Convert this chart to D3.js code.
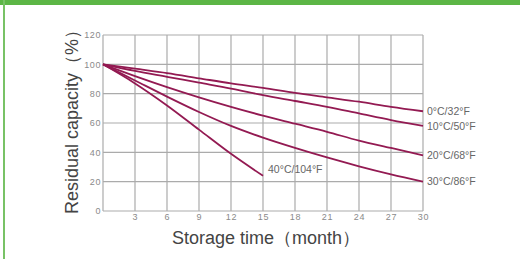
<!DOCTYPE html>
<html>
<head>
<meta charset="utf-8">
<script src="https://cdn.jsdelivr.net/npm/d3@7"></script>
<style>
  body { margin: 0; background: #fff; }
  svg { display: block; font-family: "Liberation Sans", Arial, sans-serif; }
</style>
</head>
<body>
<svg id="chart"></svg>
<script>
// ---------------- data ----------------
var months = [0, 3, 6, 9, 12, 15, 18, 21, 24, 27, 30];
var monthsHot = [0, 3, 6, 9, 12, 15];
var xTicks = [3, 6, 9, 12, 15, 18, 21, 24, 27, 30];
var yTicks = [0, 20, 40, 60, 80, 100, 120];

var labels = ["0°C/32°F", "10°C/50°F", "20°C/68°F", "30°C/86°F", "40°C/104°F"];
var cap0  = [100, 97, 94, 90.5, 87, 84, 80.5, 77.5, 74.5, 71, 68];
var cap10 = [100, 95.5, 91.5, 87.5, 83.5, 79, 75, 71, 66.5, 62, 58];
var cap20 = [100, 92, 84.5, 77.5, 71, 65, 59.5, 54, 48, 43, 38];
var cap30 = [100, 89, 78, 67.5, 58, 50, 43, 36.5, 30.5, 25, 20];
var cap40 = [100, 87, 72, 55.5, 39, 24];

var W = 520, H = 259;
var margin = {top: 35, right: 97, bottom: 48, left: 103};

var svg = d3.select("#chart").attr("width", W).attr("height", H);

// frame decoration: green band on top, green line on the left
svg.append("rect").attr("x", 0).attr("y", 0).attr("width", W).attr("height", 5).style("fill", "#5cb646");
svg.append("rect").attr("x", 3).attr("y", 0).attr("width", 2).attr("height", H).style("fill", "#78c266");

var x = d3.scaleLinear().domain([0, 30]).range([margin.left, W - margin.right]);
var y = d3.scaleLinear().domain([0, 120]).range([H - margin.bottom, margin.top]);

//------------- grid -------------
var grid = svg.append("g").style("stroke", "#ababab").style("stroke-width", 1.2);
grid.selectAll("line.v").data([0].concat(xTicks)).enter().append("line")
  .attr("x1", function(d){ return x(d); }).attr("x2", function(d){ return x(d); })
  .attr("y1", y(0)).attr("y2", y(120));
grid.selectAll("line.h").data(yTicks).enter().append("line")
  .attr("x1", x(0)).attr("x2", x(30))
  .attr("y1", function(d){ return y(d); }).attr("y2", function(d){ return y(d); });

//------------- axes labels -------------
svg.append("g")
  .attr("transform", "translate(" + (x(0) - 1) + ",0)")
  .call(d3.axisLeft(y).tickValues(yTicks).tickSize(0).tickPadding(1))
  .call(function(g){ g.select(".domain").remove(); })
  .selectAll("text")
    .style("font-size", "9px").style("letter-spacing", "0.6px").style("fill", "#8a8a8a");

svg.append("g")
  .attr("transform", "translate(0," + y(0) + ")")
  .call(d3.axisBottom(x).tickValues(xTicks).tickSize(0).tickPadding(3))
  .call(function(g){ g.select(".domain").remove(); })
  .selectAll("text")
    .style("font-size", "9px").style("letter-spacing", "0.8px").style("fill", "#8a8a8a");

svg.append("text")
  .attr("x", (172 + 360) / 2).attr("y", 244)
  .style("text-anchor", "middle").style("font-size", "18px").style("fill", "#444")
  .text("Storage time（month）");

svg.append("text")
  .attr("transform", "translate(78," + (y(0) + 3) + ") rotate(-90)")
  .style("text-anchor", "start").style("font-size", "18px").style("fill", "#444")
  .text("Residual capacity（%）");

//------------- curves -------------
var series = [
  {name: labels[0], m: months, v: cap0},
  {name: labels[1], m: months, v: cap10},
  {name: labels[2], m: months, v: cap20},
  {name: labels[3], m: months, v: cap30},
  {name: labels[4], m: monthsHot, v: cap40}
];

var line = d3.line()
  .x(function(d){ return x(d[0]); })
  .y(function(d){ return y(d[1]); })
  .curve(d3.curveMonotoneX);

svg.append("g").selectAll("path").data(series).enter().append("path")
  .attr("d", function(s){ return line(s.m.map(function(mm, i){ return [mm, s.v[i]]; })); })
  .style("fill", "none")
  .style("stroke", "#931a52")
  .style("stroke-width", 1.8);

// end labels
svg.append("g").selectAll("text").data(series.slice(0, 4)).enter().append("text")
  .attr("x", x(30) + 4)
  .attr("y", function(s){ return y(s.v[s.v.length - 1]); })
  .attr("dy", "0.35em")
  .style("font-size", "10.5px").style("fill", "#666")
  .text(function(s){ return s.name; });

var hot = series[4];
svg.append("text")
  .attr("x", x(hot.m[hot.m.length - 1]) + 5)
  .attr("y", y(hot.v[hot.v.length - 1]) - 6)
  .attr("dy", "0.35em")
  .style("font-size", "10.5px").style("fill", "#666")
  .text(hot.name);
</script>
</body>
</html>
